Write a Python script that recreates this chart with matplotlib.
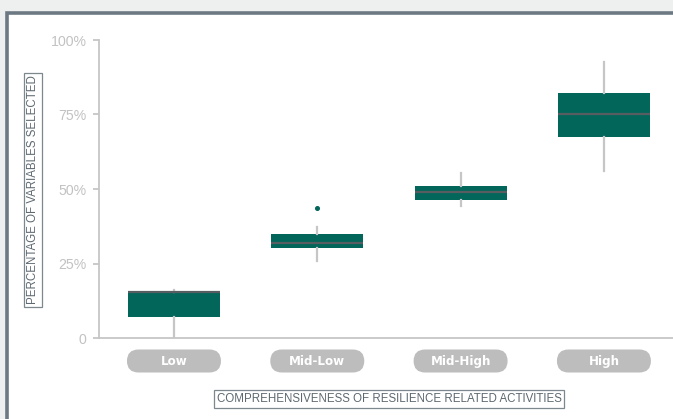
import matplotlib
matplotlib.use("Agg")
import matplotlib.pyplot as plt
from matplotlib.patches import Rectangle, FancyBboxPatch
from matplotlib.transforms import IdentityTransform

# Resilience comprehensiveness groups and box statistics (percent of variables selected)
categories = ["Low", "Mid-Low", "Mid-High", "High"]
whisker_low = [0.0, 25.9, 44.4, 55.9]
quartile_1 = [7.0, 30.2, 46.3, 67.4]
medians = [15.5, 32.0, 49.0, 75.2]
quartile_3 = [15.5, 34.9, 51.0, 82.2]
whisker_high = [16.0, 37.1, 55.3, 92.7]
outliers = [[], [43.7], [], []]

y_ticks = [0, 25, 50, 75, 100]
y_tick_labels = ["0", "25%", "50%", "75%", "100%"]

GREEN = "#02665a"
WHISKER = "#c6c6c6"
MEDIAN = "#575d60"
PILL = "#bdbdbd"
FRAME = "#6c7983"
TICK_TEXT = "#c2c2c2"
LABEL_TEXT = "#5d6870"

W, H, DPI = 673, 419, 100
fig = plt.figure(figsize=(W / DPI, H / DPI), dpi=DPI)
fig.patch.set_facecolor("#eef0ef")

# White panel with a heavy frame on the top and left edges
fig.add_artist(Rectangle((7 / W, -0.1), 1.2, (H - 13) / H + 0.1,
                         transform=fig.transFigure, facecolor="white",
                         edgecolor=FRAME, linewidth=2.6, zorder=0))

ax = fig.add_axes([99 / W, 81 / H, (W - 99) / W, 298 / H])
ax.set_facecolor("none")

stats = []
for i, name in enumerate(categories):
    stats.append(dict(label=name, whislo=whisker_low[i], q1=quartile_1[i],
                      med=medians[i], q3=quartile_3[i],
                      whishi=whisker_high[i], fliers=outliers[i]))

ax.bxp(stats, positions=range(len(categories)), widths=0.642,
       patch_artist=True, showcaps=False,
       boxprops=dict(facecolor=GREEN, edgecolor=GREEN, linewidth=0),
       whiskerprops=dict(color=WHISKER, linewidth=1.6),
       medianprops=dict(color=MEDIAN, linewidth=1.6),
       flierprops=dict(marker="o", markersize=2.6, markerfacecolor=GREEN,
                       markeredgecolor=GREEN))

ax.set_xlim(-0.523, 3.482)
ax.set_ylim(0, 100)

for side in ("top", "right"):
    ax.spines[side].set_visible(False)
for side in ("left", "bottom"):
    ax.spines[side].set_color(WHISKER)
    ax.spines[side].set_linewidth(1.3)

ax.set_yticks(y_ticks)
ax.set_yticklabels(y_tick_labels, fontfamily="Liberation Sans", fontsize=10.2,
                   color=TICK_TEXT)
ax.tick_params(axis="y", length=4, width=1.3, color=WHISKER, pad=5)
ax.set_xticks([])

# Rounded grey category pills under the axis
fig.canvas.draw()
for i, name in enumerate(categories):
    cx, base_y = ax.transData.transform((i, 0))
    pw, ph = 94, 23
    cy = base_y - 23
    fig.add_artist(FancyBboxPatch((cx - pw / 2, cy - ph / 2), pw, ph,
                                  boxstyle=f"round,pad=0,rounding_size={ph / 2}",
                                  transform=IdentityTransform(),
                                  facecolor=PILL, edgecolor="none", zorder=3))
    fig.text(cx / W, cy / H, name, ha="center", va="center", color="white",
             fontweight="bold", fontsize=8.6, family="DejaVu Sans", zorder=4)

fig.text(389 / W, (H - 399) / H,
         "COMPREHENSIVENESS OF RESILIENCE RELATED ACTIVITIES",
         ha="center", va="center", fontsize=8.3, family="Liberation Sans",
         color=LABEL_TEXT,
         bbox=dict(boxstyle="square,pad=0.25", facecolor="white",
                   edgecolor="#7d878e", linewidth=0.9))

fig.text(33 / W, (H - 190) / H, "PERCENTAGE OF VARIABLES SELECTED",
         ha="center", va="center", rotation=90, fontsize=8.3,
         family="Liberation Sans", color=LABEL_TEXT,
         bbox=dict(boxstyle="square,pad=0.25", facecolor="white",
                   edgecolor="#7d878e", linewidth=0.9))

fig.savefig("out.png", dpi=DPI, facecolor=fig.get_facecolor())
